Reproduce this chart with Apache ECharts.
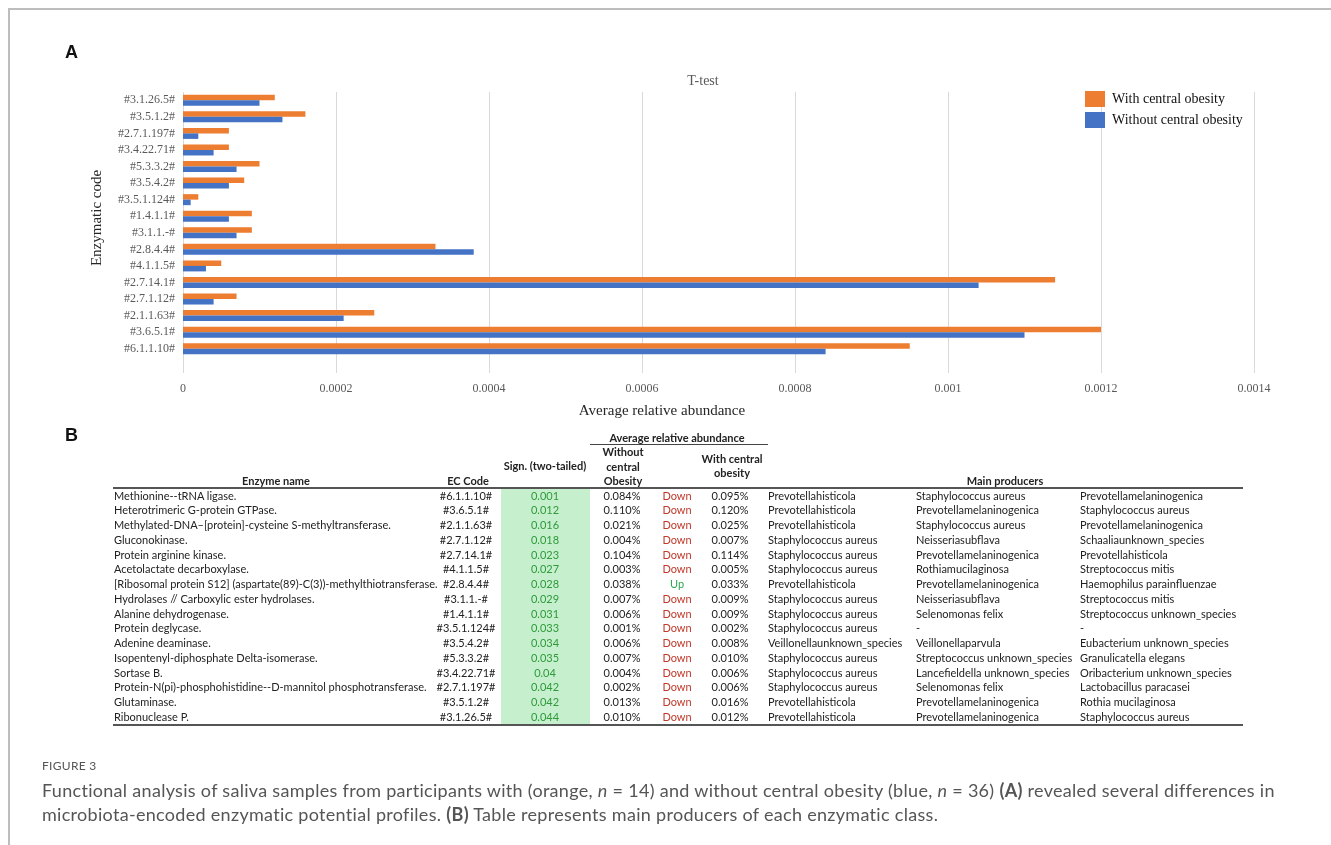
<!DOCTYPE html>
<html>
<head>
<meta charset="utf-8">
<title>Figure 3</title>
<script src="https://cdn.jsdelivr.net/npm/echarts/dist/echarts.min.js"></script>
<style>
  html, body { margin: 0; padding: 0; background: #fff; }
  body { position: relative; width: 1331px; height: 845px; overflow: hidden; }
  #frameTop { position: absolute; left: 9px; top: 8px; width: 1322px; height: 2px; background: #bdbdbd; }
  #frameLeft { position: absolute; left: 8px; top: 8px; width: 2px; height: 837px; background: #bdbdbd; }
  #chart { position: absolute; left: 0; top: 0; width: 1331px; height: 430px; }
  #table { position: absolute; left: 0; top: 0; width: 1331px; height: 845px; font-family: Lato, "Open Sans", sans-serif; font-size: 11px; color: #222; }
  .cell { position: absolute; white-space: nowrap; line-height: 14px; height: 14px; }
  .hd { font-weight: bold; }
  .rule { position: absolute; background: #555; }
  #greenCol { position: absolute; background: #c6efce; }
  #caption { position: absolute; left: 42px; top: 756px; width: 1285px; font-family: Lato, "Open Sans", sans-serif; color: #555; }
  #caption .fig { font-size: 12px; letter-spacing: 0.3px; line-height: 20px; }
  #caption .txt { font-size: 18px; letter-spacing: 0.3px; line-height: 24px; margin-top: 2px; white-space: nowrap; }
</style>
</head>
<body>
<div id="frameTop"></div>
<div id="frameLeft"></div>
<div id="chart"></div>
<div id="table"></div>
<div id="caption">
  <div class="fig">FIGURE 3</div>
  <div class="txt">Functional analysis of saliva samples from participants with (orange, <i>n</i> = 14) and without central obesity (blue, <i>n</i> = 36) <b>(A)</b> revealed several differences in<br>microbiota-encoded enzymatic potential profiles. <b>(B)</b> Table represents main producers of each enzymatic class.</div>
</div>
<script>
// Enzyme classes, in table order (bottom-to-top in the bar chart)
const enzymeNames = [
  'Methionine--tRNA ligase.',
  'Heterotrimeric G-protein GTPase.',
  'Methylated-DNA\u2013[protein]-cysteine S-methyltransferase.',
  'Gluconokinase.',
  'Protein arginine kinase.',
  'Acetolactate decarboxylase.',
  '[Ribosomal protein S12] (aspartate(89)-C(3))-methylthiotransferase.',
  'Hydrolases // Carboxylic ester hydrolases.',
  'Alanine dehydrogenase.',
  'Protein deglycase.',
  'Adenine deaminase.',
  'Isopentenyl-diphosphate Delta-isomerase.',
  'Sortase B.',
  'Protein-N(pi)-phosphohistidine--D-mannitol phosphotransferase.',
  'Glutaminase.',
  'Ribonuclease P.'
];
const ecCodes = ['#6.1.1.10#', '#3.6.5.1#', '#2.1.1.63#', '#2.7.1.12#', '#2.7.14.1#', '#4.1.1.5#', '#2.8.4.4#', '#3.1.1.-#',
  '#1.4.1.1#', '#3.5.1.124#', '#3.5.4.2#', '#5.3.3.2#', '#3.4.22.71#', '#2.7.1.197#', '#3.5.1.2#', '#3.1.26.5#'];
const pValues = ['0.001', '0.012', '0.016', '0.018', '0.023', '0.027', '0.028', '0.029', '0.031', '0.033', '0.034', '0.035', '0.04', '0.042', '0.042', '0.044'];
// Average relative abundance, in percent
const withoutObesityPct = [0.084, 0.110, 0.021, 0.004, 0.104, 0.003, 0.038, 0.007, 0.006, 0.001, 0.006, 0.007, 0.004, 0.002, 0.013, 0.010];
const withObesityPct = [0.095, 0.120, 0.025, 0.007, 0.114, 0.005, 0.033, 0.009, 0.009, 0.002, 0.008, 0.010, 0.006, 0.006, 0.016, 0.012];
const direction = ['Down', 'Down', 'Down', 'Down', 'Down', 'Down', 'Up', 'Down', 'Down', 'Down', 'Down', 'Down', 'Down', 'Down', 'Down', 'Down'];
const producer1 = ['Prevotellahisticola', 'Prevotellahisticola', 'Prevotellahisticola', 'Staphylococcus aureus', 'Staphylococcus aureus',
  'Staphylococcus aureus', 'Prevotellahisticola', 'Staphylococcus aureus', 'Staphylococcus aureus', 'Staphylococcus aureus',
  'Veillonellaunknown_species', 'Staphylococcus aureus', 'Staphylococcus aureus', 'Staphylococcus aureus', 'Prevotellahisticola', 'Prevotellahisticola'];
const producer2 = ['Staphylococcus aureus', 'Prevotellamelaninogenica', 'Staphylococcus aureus', 'Neisseriasubflava', 'Prevotellamelaninogenica',
  'Rothiamucilaginosa', 'Prevotellamelaninogenica', 'Neisseriasubflava', 'Selenomonas felix', '-',
  'Veillonellaparvula', 'Streptococcus unknown_species', 'Lancefieldella unknown_species', 'Selenomonas felix', 'Prevotellamelaninogenica', 'Prevotellamelaninogenica'];
const producer3 = ['Prevotellamelaninogenica', 'Staphylococcus aureus', 'Prevotellamelaninogenica', 'Schaaliaunknown_species', 'Prevotellahisticola',
  'Streptococcus mitis', 'Haemophilus parainfluenzae', 'Streptococcus mitis', 'Streptococcus unknown_species', '-',
  'Eubacterium unknown_species', 'Granulicatella elegans', 'Oribacterium unknown_species', 'Lactobacillus paracasei', 'Rothia mucilaginosa', 'Staphylococcus aureus'];
const xTickMax = 0.0014;
const xTickStep = 0.0002;

const ORANGE = '#ed7d31';
const BLUE = '#4472c4';
const SERIF = '"Liberation Serif", "Times New Roman", serif';

// ---------- Panel A: horizontal bar chart ----------
const chart = echarts.init(document.getElementById('chart'), null, { renderer: 'canvas' });
const fmtTick = v => String(+v.toFixed(4));
const plotLeft = 183, plotRight = 1331 - 1254;

chart.setOption({
  animation: false,
  grid: [
    { left: plotLeft, right: plotRight, top: 92, height: 265 },
    { left: plotLeft, right: plotRight, top: 357, height: 16 }
  ],
  legend: {
    orient: 'vertical', left: 1080, top: 86, itemWidth: 20, itemHeight: 16, itemGap: 5,
    icon: 'rect',
    textStyle: { fontFamily: SERIF, fontSize: 14, color: '#111', padding: [0, 0, 0, 2] },
    data: ['With central obesity', 'Without central obesity']
  },
  xAxis: [
    {
      gridIndex: 0, type: 'value', min: 0, max: xTickMax, interval: xTickStep,
      axisLine: { show: false }, axisTick: { show: false }, axisLabel: { show: false },
      splitLine: { show: true, lineStyle: { color: '#d9d9d9', width: 1 } }
    },
    {
      gridIndex: 1, type: 'value', min: 0, max: xTickMax, interval: xTickStep,
      axisLine: { show: false }, axisTick: { show: false },
      axisLabel: { show: true, margin: 10, formatter: fmtTick, fontFamily: SERIF, fontSize: 12, color: '#595959' },
      splitLine: { show: true, lineStyle: { color: '#d9d9d9', width: 1 } }
    }
  ],
  yAxis: [
    {
      gridIndex: 0, type: 'category', data: ecCodes,
      axisLine: { show: false }, axisTick: { show: false },
      axisLabel: { margin: 8, fontFamily: SERIF, fontSize: 12, color: '#595959' }
    },
    { gridIndex: 1, type: 'value', min: 0, max: 1, show: false }
  ],
  series: [
    {
      name: 'With central obesity', type: 'bar', xAxisIndex: 0, yAxisIndex: 0,
      data: withObesityPct.map(v => v / 100), itemStyle: { color: ORANGE },
      barWidth: 5.5, barGap: '0%'
    },
    {
      name: 'Without central obesity', type: 'bar', xAxisIndex: 0, yAxisIndex: 0,
      data: withoutObesityPct.map(v => v / 100), itemStyle: { color: BLUE },
      barWidth: 5.5, barGap: '0%'
    }
  ],
  graphic: [
    { type: 'text', left: 65, top: 44, style: { text: 'A', font: 'bold 18px "Liberation Sans", Arial, sans-serif', fill: '#111' } },
    { type: 'text', x: 703, y: 81, style: { text: 'T-test', font: '14px ' + SERIF, fill: '#595959', textAlign: 'center', textVerticalAlign: 'middle' } },
    { type: 'text', x: 662, y: 411, style: { text: 'Average relative abundance', font: '15px ' + SERIF, fill: '#262626', textAlign: 'center', textVerticalAlign: 'middle' } },
    { type: 'text', x: 97, y: 218, rotation: Math.PI / 2, style: { text: 'Enzymatic code', font: '15px ' + SERIF, fill: '#262626', textAlign: 'center', textVerticalAlign: 'middle' } }
  ]
});

// ---------- Panel B: table ----------
const tbl = document.getElementById('table');
function put(text, x, y, align, cls, color, w) {
  const d = document.createElement('div');
  d.className = 'cell' + (cls ? ' ' + cls : '');
  d.textContent = text;
  const width = w || 300;
  d.style.top = (y - 7) + 'px';
  d.style.width = width + 'px';
  if (align === 'left') { d.style.left = x + 'px'; d.style.textAlign = 'left'; }
  else { d.style.left = (x - width / 2) + 'px'; d.style.textAlign = 'center'; }
  if (color) d.style.color = color;
  tbl.appendChild(d);
}
function rule(x1, x2, y, h, color) {
  const r = document.createElement('div');
  r.className = 'rule';
  r.style.left = x1 + 'px'; r.style.width = (x2 - x1) + 'px';
  r.style.top = y + 'px'; r.style.height = h + 'px';
  if (color) r.style.background = color;
  tbl.appendChild(r);
}

const letterB = document.createElement('div');
letterB.textContent = 'B';
letterB.style.cssText = 'position:absolute;left:65px;top:425px;font:bold 18px "Liberation Sans", Arial, sans-serif;color:#111;';
tbl.appendChild(letterB);

const green = document.createElement('div');
green.id = 'greenCol';
green.style.left = '501px'; green.style.width = '89px'; green.style.top = '488px'; green.style.height = '237px';
tbl.appendChild(green);

// header
put('Average relative abundance', 677, 438, 'center', 'hd');
rule(590, 768, 444, 1, '#444');
put('Sign. (two-tailed)', 545, 466, 'center', 'hd');
put('Without', 623, 452, 'center', 'hd');
put('central', 623, 467, 'center', 'hd');
put('Obesity', 623, 481, 'center', 'hd');
put('With central', 732, 459, 'center', 'hd');
put('obesity', 732, 473, 'center', 'hd');
put('Enzyme name', 276, 481, 'center', 'hd');
put('EC Code', 468, 481, 'center', 'hd');
put('Main producers', 1005, 481, 'center', 'hd');
rule(113, 1243, 487, 2, '#555');
rule(113, 1243, 724, 2, '#555');

// body rows
const rowTop = 495.5, rowStep = 14.75;
enzymeNames.forEach((name, i) => {
  const y = rowTop + i * rowStep;
  put(name, 114, y, 'left');
  put(ecCodes[i], 466, y, 'center');
  put(pValues[i], 545, y, 'center', '', '#2f9a3a');
  put(withoutObesityPct[i].toFixed(3) + '%', 622, y, 'center');
  put(direction[i], 677, y, 'center', '', direction[i] === 'Up' ? '#2ea44f' : '#c0392b');
  put(withObesityPct[i].toFixed(3) + '%', 730, y, 'center');
  put(producer1[i], 768, y, 'left');
  put(producer2[i], 916, y, 'left');
  put(producer3[i], 1080, y, 'left');
});
</script>
</body>
</html>
